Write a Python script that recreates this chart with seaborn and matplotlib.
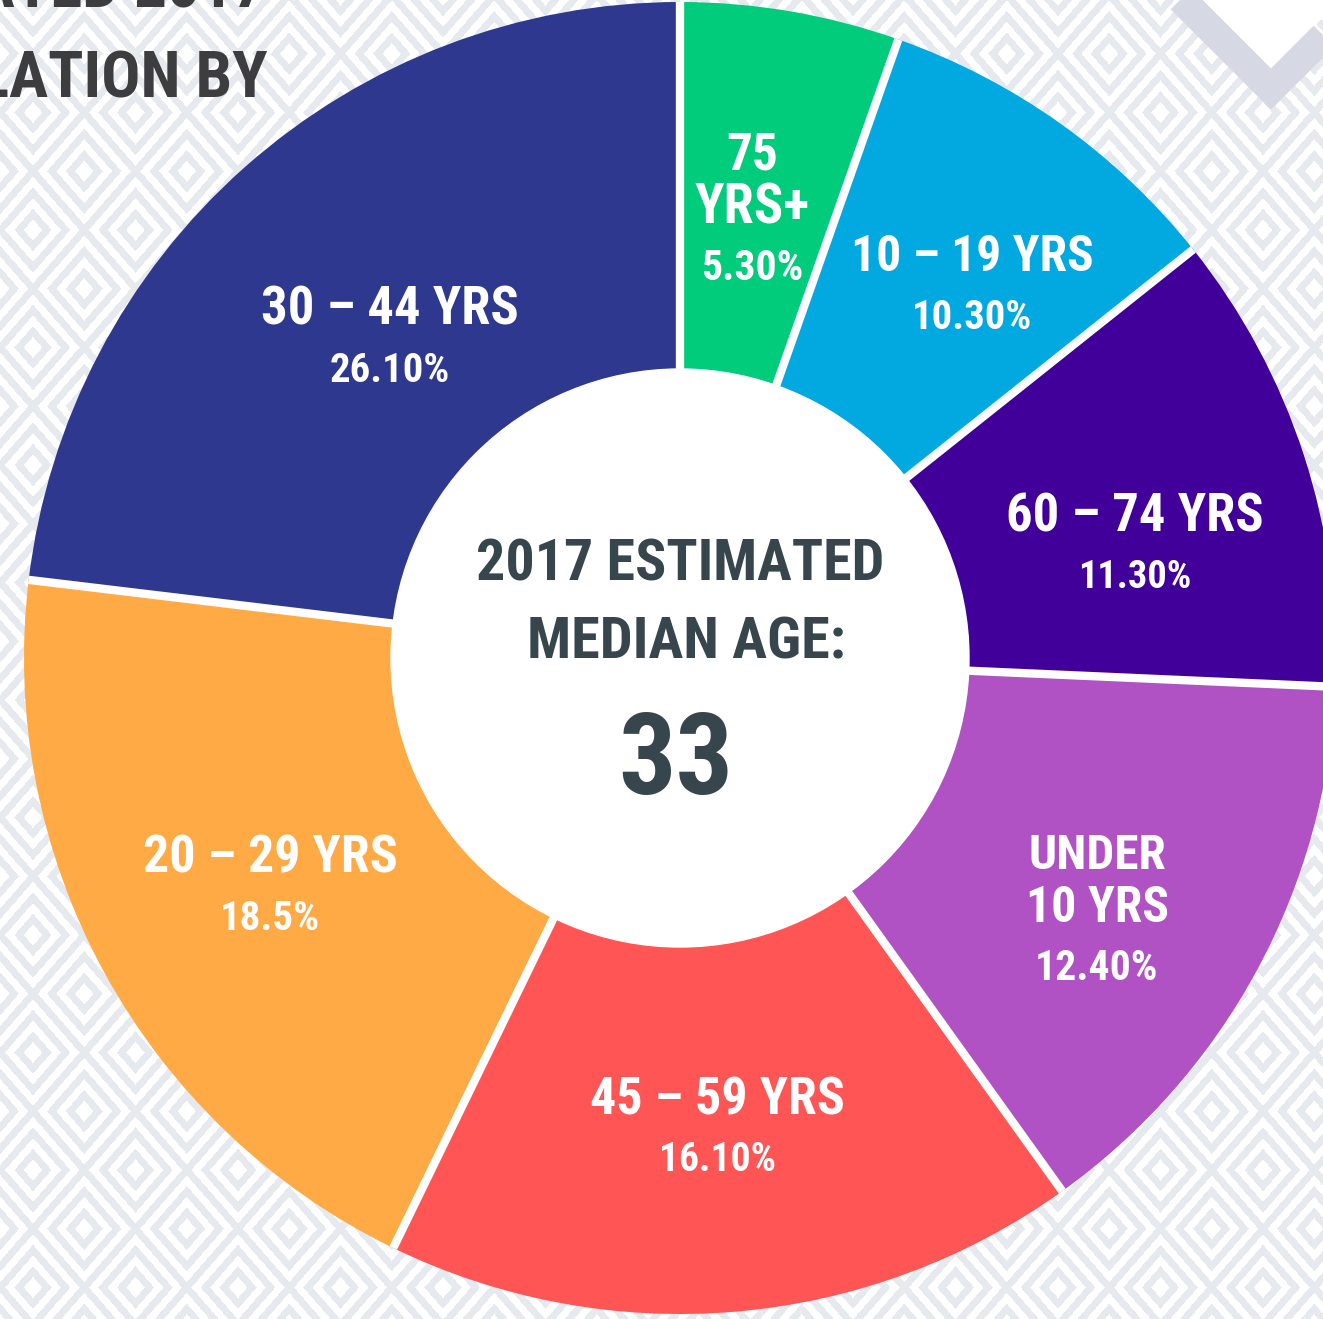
import os

import matplotlib
matplotlib.use("Agg")
import matplotlib.pyplot as plt
import numpy as np
import seaborn as sns
from matplotlib import font_manager
from matplotlib.colors import ListedColormap
from matplotlib.patches import Circle

# data, clockwise from 12 o'clock
age_groups = ["75\nYRS+", "10 – 19 YRS", "60 – 74 YRS", "UNDER\n10 YRS",
              "45 – 59 YRS", "20 – 29 YRS", "30 – 44 YRS"]
slice_shares = [5.4, 8.9, 11.4, 14.4, 17.1, 19.7, 23.1]
# percentages as printed on the picture
share_labels = ["5.30%", "10.30%", "11.30%", "12.40%", "16.10%", "18.5%", "26.10%"]
slice_colors = ["#00cc7c", "#02a8e0", "#400099", "#b052c4",
                "#ff5555", "#ffaa44", "#2e388f"]
median_age = 33

# layout, in pixels of the 1323x1319 canvas
W, H = 1323, 1319
CX, CY, R_OUT, R_IN = 680, 658, 656, 289
# x centre and baseline of the percent line for each label
label_anchor = [(752, 282), (972, 331), (1135, 591), (1097, 982),
                (717, 1174), (270, 932), (390, 384)]
# target widths (px) of the name lines and the percent line
name_widths = [[52, 115], [243], [258], [138, 143], [255], [255], [258]]
pct_widths = [102, 120, 113, 123, 117, 100, 120]


def pick_font():
    wanted = ["NotoSans-ExtraCondensedBlack", "NotoSans-ExtraCondensedExtraBold",
              "NotoSans-ExtraCondensedBold", "NotoSans-CondensedExtraBold",
              "NotoSans-CondensedBold", "RobotoCondensed-Bold",
              "LiberationSansNarrow-Bold", "DejaVuSansCondensed-Bold",
              "Roboto-Bold", "LiberationSans-Bold"]
    files = {os.path.basename(f.fname).split(".")[0].lower(): f.fname
             for f in font_manager.fontManager.ttflist}
    for name in wanted:
        if name.lower() in files:
            return font_manager.FontProperties(fname=files[name.lower()])
    return font_manager.FontProperties(family="DejaVu Sans", weight="bold")


sns.set_theme(style="white")
plt.rcParams["font.family"] = ["DejaVu Sans"]
FONT = pick_font()

fig = plt.figure(figsize=(W / 100, H / 100), dpi=100)
ax = fig.add_axes([0, 0, 1, 1])
renderer = fig.canvas.get_renderer()


def fitted_text(x, y, s, width, cap, **kw):
    # size from the cap height, shrunk to the width, kept centred on the line
    size = cap * 1.01
    t = ax.text(x, y, s, fontproperties=FONT, fontsize=size, va="baseline",
                zorder=4, **kw)
    w = t.get_window_extent(renderer).width
    if w > width:
        size *= width / w
        t.set_fontsize(size)
        t.set_y(y - (cap - size / 1.01) / 2)
    return t


# diamond background pattern
yy, xx = np.mgrid[0:H, 0:W] + 0.5
u = (xx - 33) / 51.25
v = (yy - 1170) / 58.75
p, q = (u + v) / 2, (u - v) / 2
d = 2 * np.maximum(np.abs(p - np.round(p)), np.abs(q - np.round(q)))
band = np.floor(d * 5.5) % 2
ax.imshow(band, cmap=ListedColormap(["white", "#e6e9ed"]), extent=(0, W, H, 0),
          interpolation="nearest", zorder=0)

# chevron decoration top right
ax.fill([1071, 1271, 1471], [-131.5, 68.5, -131.5], color="white", zorder=1)
ax.plot([1120, 1271, 1422], [-62, 89, -62], color="#d6d9e4", lw=21,
        solid_joinstyle="miter", solid_capstyle="butt", zorder=1.5)
ax.plot([1120, 1272, 1424], [-157.5, -5.5, -157.5], color="#d6d9e4", lw=21,
        solid_joinstyle="miter", solid_capstyle="butt", zorder=1.5)

# donut
wedges, _ = ax.pie(slice_shares, colors=slice_colors, startangle=-90,
                   counterclock=True, radius=R_OUT, center=(CX, CY),
                   wedgeprops=dict(linewidth=0))
for w in wedges:
    w.set_zorder(2)

# gaps between slices
bounds = np.cumsum([0] + slice_shares) / sum(slice_shares)
for frac in bounds[:-1]:
    ang = np.deg2rad(-90 + 360 * frac)
    ax.plot([CX, CX + R_OUT * np.cos(ang)], [CY, CY + R_OUT * np.sin(ang)],
            color="white", lw=6, solid_capstyle="butt", zorder=2.5)

ax.add_patch(Circle((CX, CY), R_IN, color="white", zorder=3))

# slice labels
for name, pct, (x, y), nws, pw in zip(age_groups, share_labels, label_anchor,
                                      name_widths, pct_widths):
    fitted_text(x, y, pct, pw, 34, color="white", ha="center")
    lines = name.split("\n")
    for i, (line, lw_) in enumerate(zip(reversed(lines), reversed(nws))):
        fitted_text(x, y - 54 - 53 * i, line, lw_, 48, color="white", ha="center")

# centre text
fitted_text(680, 590, "2017 ESTIMATED", 408, 60, color="#37454d", ha="center")
fitted_text(686, 668, "MEDIAN AGE:", 318, 60, color="#37454d", ha="center")
fitted_text(676, 813, str(median_age), 115, 120, color="#37454d", ha="center")

# cropped title top left
ax.text(266, 8, "ESTIMATED 2017", fontproperties=FONT, fontsize=47,
        color="#3d3d40", ha="right", va="baseline", zorder=4)
ax.text(268, 97, "POPULATION BY", fontproperties=FONT, fontsize=47,
        color="#3d3d40", ha="right", va="baseline", zorder=4)

ax.set_xlim(0, W)
ax.set_ylim(H, 0)
ax.set_aspect("equal")
ax.axis("off")
fig.savefig("out.png", dpi=100)
